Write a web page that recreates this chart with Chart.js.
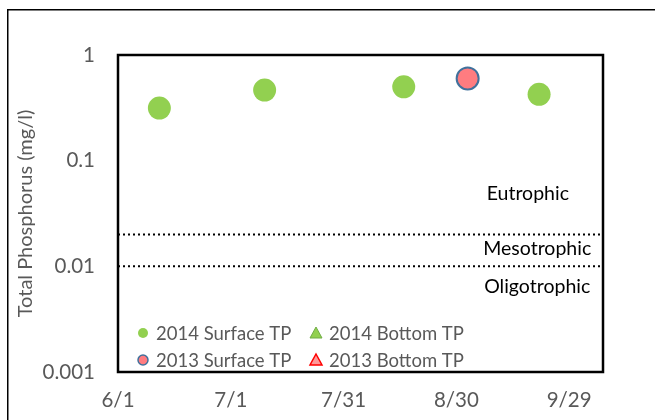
<!DOCTYPE html>
<html>
<head>
<meta charset="utf-8">
<script src="https://cdn.jsdelivr.net/npm/chart.js@4"></script>
<style>
    html, body { margin: 0; padding: 0; background: #fff; }
    #chart_container { width: 655px; height: 420px; position: relative; }
</style>
</head>
<body>
<div id="chart_container">
    <canvas id="tp_chart"></canvas>
</div>
<script>
    // sample dates (m/d) and total phosphorus, mg/l
    const sampleDays2014 = ['6/12', '7/10', '8/16', '9/21'];
    const surfaceTP2014 = [0.315, 0.466, 0.50, 0.425];
    const bottomDays2014 = [];
    const bottomTP2014 = [];
    const sampleDays2013 = ['9/2'];
    const surfaceTP2013 = [0.60];
    const bottomDays2013 = [];
    const bottomTP2013 = [];

    const xTickLabels = ['6/1', '7/1', '7/31', '8/30', '9/29'];
    const xEndLabel = '10/8';
    const yTickValues = [0.001, 0.01, 0.1, 1];
    const trophicLimits = [0.02, 0.01];
    const zoneNames = ['Eutrophic', 'Mesotrophic', 'Oligotrophic'];
    const zoneLevels = [0.049, 0.0146, 0.0064];

    const FONT = 'Lato, "Open Sans", sans-serif';
    const GREY = '#595959';

    // days since 6/1
    function dayOf(md) {
        const p = md.split('/');
        return Math.round((new Date(2014, p[0] - 1, +p[1]) - new Date(2014, 5, 1)) / 86400000);
    }
    function dayLabel(d) {
        const dt = new Date(2014, 5, 1 + Math.round(d));
        return (dt.getMonth() + 1) + '/' + dt.getDate();
    }
    function pts(days, vals) {
        return days.map((d, i) => ({ x: dayOf(d), y: vals[i] }));
    }
    const xMin = dayOf(xTickLabels[0]);
    const xMax = dayOf(xEndLabel);

    const seriesSets = [
        { label: '2014 Surface TP', data: pts(sampleDays2014, surfaceTP2014), pointStyle: 'circle',
          backgroundColor: '#92D050', borderColor: '#92D050', pointRadius: 11.5, borderWidth: 0 },
        { label: '2014 Bottom TP', data: pts(bottomDays2014, bottomTP2014), pointStyle: 'triangle',
          backgroundColor: '#92D050', borderColor: '#70AD47', pointRadius: 11, borderWidth: 1 },
        { label: '2013 Surface TP', data: pts(sampleDays2013, surfaceTP2013), pointStyle: 'circle',
          backgroundColor: '#FF7C80', borderColor: '#41719C', pointRadius: 11, borderWidth: 2 },
        { label: '2013 Bottom TP', data: pts(bottomDays2013, bottomTP2013), pointStyle: 'triangle',
          backgroundColor: '#FF9999', borderColor: '#FF0000', pointRadius: 11, borderWidth: 1.5 },
    ];
    const limitSets = trophicLimits.map(v => ({
        type: 'line', label: 'limit ' + v,
        data: [{ x: xMin, y: v }, { x: xMax, y: v }],
        borderColor: '#000', borderWidth: 2, borderDash: [2, 3], pointRadius: 0, fill: false,
    }));

    const frame = {
        id: 'frame',
        beforeDraw(chart) {
            const c = chart.ctx;
            c.save();
            c.strokeStyle = '#000';
            c.lineWidth = 1.5;
            c.strokeRect(7.75, 9.75, 900, 900);
            c.restore();
        },
        afterDatasetsDraw(chart) {
            const c = chart.ctx, a = chart.chartArea;
            c.save();
            c.strokeStyle = '#000';
            c.lineWidth = 2.5;
            c.strokeRect(a.left, a.top, a.right - a.left, a.bottom - a.top);

            // zone names
            const xs = chart.scales.x, ys = chart.scales.y;
            c.fillStyle = '#000';
            c.font = '19.5px ' + FONT;
            c.textAlign = 'center';
            c.textBaseline = 'middle';
            const zoneX = [109, 111.5, 111.5];
            zoneNames.forEach((n, i) => {
                c.fillText(n, xs.getPixelForValue(zoneX[i]), ys.getPixelForValue(zoneLevels[i]));
            });

            // legend, 2 x 2 inside the plot
            c.textAlign = 'left';
            c.font = '18.5px ' + FONT;
            seriesSets.forEach((s, i) => {
                const col = i % 2, row = i < 2 ? 0 : 1;
                const mx = a.left + (col ? 198 : 25);
                const my = a.bottom - (row ? 12 : 39);
                c.beginPath();
                if (s.pointStyle === 'circle') {
                    c.arc(mx, my, 5, 0, Math.PI * 2);
                } else {
                    c.moveTo(mx, my - 6);
                    c.lineTo(mx + 6, my + 5);
                    c.lineTo(mx - 6, my + 5);
                    c.closePath();
                }
                c.fillStyle = s.backgroundColor;
                c.fill();
                if (s.borderWidth) {
                    c.strokeStyle = s.borderColor;
                    c.lineWidth = Math.min(s.borderWidth, 1.5);
                    c.stroke();
                }
                c.fillStyle = GREY;
                c.fillText(s.label, mx + 13, my + 1);
            });
            c.restore();
        }
    };

    new Chart(document.getElementById('tp_chart'), {
        type: 'scatter',
        data: { datasets: [...limitSets, ...seriesSets] },
        options: {
            responsive: true,
            maintainAspectRatio: false,
            animation: false,
            layout: { padding: { top: 55, right: 52, left: 0, bottom: 0 } },
            plugins: { legend: { display: false }, tooltip: { enabled: false } },
            scales: {
                x: {
                    type: 'linear', min: xMin, max: xMax,
                    grid: { display: false, drawTicks: false },
                    border: { display: false },
                    ticks: {
                        padding: 16, color: GREY, autoSkip: false, maxRotation: 0,
                        font: { family: FONT, size: 20.5 },
                        callback: v => dayLabel(v),
                    },
                    afterBuildTicks: s => { s.ticks = xTickLabels.map(l => ({ value: dayOf(l) })); },
                    afterFit: s => { s.height = 48; },
                },
                y: {
                    type: 'logarithmic', min: yTickValues[0], max: yTickValues[yTickValues.length - 1],
                    grid: { display: false, drawTicks: false },
                    border: { display: false },
                    ticks: {
                        padding: 23, color: GREY,
                        font: { family: FONT, size: 20.5 },
                        callback: v => String(v),
                    },
                    afterBuildTicks: s => { s.ticks = yTickValues.map(v => ({ value: v })); },
                    title: {
                        display: true, text: 'Total Phosphorus (mg/l)', color: GREY,
                        font: { family: FONT, size: 20 }, padding: { top: 14, bottom: 0 },
                    },
                    afterFit: s => { s.width = 118; },
                },
            },
        },
        plugins: [frame],
    });
</script>
</body>
</html>
